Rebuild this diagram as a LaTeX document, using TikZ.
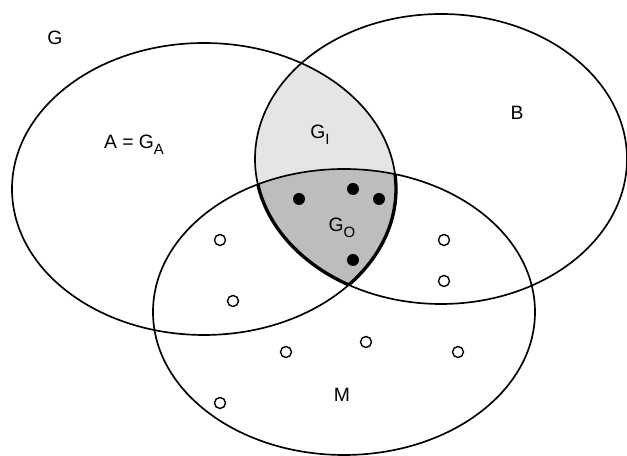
\documentclass[tikz,border=0pt]{standalone}
\usepackage{fontspec}
\setmainfont{Liberation Sans}
\usetikzlibrary{positioning}
\tikzset{
  setline/.style={line width=0.95pt},
  rim/.style={line width=1.9pt},
  lightfill/.style={fill=gray!20},
  darkfill/.style={fill=gray!52},
  lbl/.style={font=\fontsize{11}{13}\selectfont, inner sep=0pt},
  inside/.style={fill=black},
  outside/.style={draw=black, fill=white, line width=0.8pt}
}
\newcommand{\lowidx}[1]{\raisebox{-0.6ex}{\fontsize{8.5}{9}\selectfont #1}}
% the three sets
\def\setA{(204,267) ellipse [x radius=192, y radius=146]}
\def\setB{(441,297) ellipse [x radius=186, y radius=145]}
\def\setM{(344,144) ellipse [x radius=191, y radius=143]}

\begin{document}
\begin{tikzpicture}[x=0.02cm, y=0.02cm]
\useasboundingbox (0,0) rectangle (627,456);

% shaded parts
\begin{scope}
  \clip \setA;
  \clip \setB;
  \fill[lightfill] \setA;
  \clip \setM;
  \fill[darkfill] \setM;
\end{scope}

% heavy rim of G_O
\begin{scope}
  \clip \setA; \clip \setM;
  \draw[rim] \setB;
\end{scope}
\begin{scope}
  \clip \setB; \clip \setM;
  \draw[rim] \setA;
\end{scope}

\draw[setline] \setA;
\draw[setline] \setB;
\draw[setline] \setM;

% labels
\node[lbl] (g)  at (55,418)  {G};
\node[lbl] (a)  at (134,311) {A = G\lowidx{A}};
\node[lbl] (gi) at (320,321) {G\lowidx{I}};
\node[lbl] (b)  at (517,343) {B};
\node[lbl] (go) at (342,228) {G\lowidx{O}};
\node[lbl] (m)  at (342,61)  {M};

% points
\foreach \p in {(299,257),(353,267),(379,257),(353,196)}
  \fill[inside] \p circle (6);
\foreach \p in {(220,216),(233,155),(286,104),(220,53),(444,216),(444,175),(366,114),(458,104)}
  \draw[outside] \p circle (5.5);
\end{tikzpicture}
\end{document}
